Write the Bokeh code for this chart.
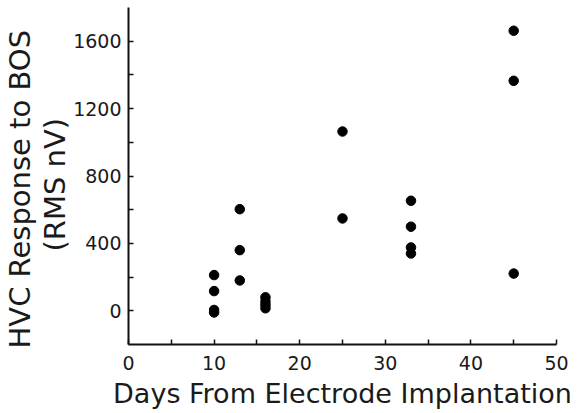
from bokeh.plotting import figure
from bokeh.models import FixedTicker, Range1d, Title
from bokeh.embed import file_html
from bokeh.resources import INLINE

# data
days = [10, 10, 10, 10, 13, 13, 13, 16, 16, 16, 16, 25, 25, 33, 33, 33, 33, 45, 45, 45]
response = [212, 117, 5, -10, 603, 360, 180, 80, 55, 35, 15, 1064, 548, 653, 499, 376, 340, 1662, 1365, 221]

x_major = [0, 10, 20, 30, 40, 50]
x_minor = [5, 15, 25, 35, 45]
y_major = [0, 400, 800, 1200, 1600]
y_minor = [200, 600, 1000, 1400]

FONT = "DejaVu Sans"
TXT = "#1a1a1a"

p = figure(width=578, height=413, output_backend="svg", toolbar_location=None,
           x_range=Range1d(0, 50), y_range=Range1d(-200, 1800),
           min_border_left=128, min_border_right=22, min_border_top=7, min_border_bottom=69)
p.outline_line_color = None
p.grid.visible = False
p.background_fill_color = "white"

p.scatter(days, response, size=9.5, fill_color="black", line_color="black")

for ax in (p.xaxis[0], p.yaxis[0]):
    ax.axis_line_color = "#111111"
    ax.axis_line_width = 2
    ax.major_tick_line_color = "#111111"
    ax.minor_tick_line_color = "#111111"
    ax.major_tick_line_width = 1.5
    ax.minor_tick_line_width = 1.5
    ax.major_tick_in = 5
    ax.major_tick_out = 0
    ax.minor_tick_in = 5
    ax.minor_tick_out = 0
    ax.major_label_text_font = FONT
    ax.major_label_text_font_size = "19px"
    ax.major_label_text_color = TXT

p.xaxis[0].ticker = FixedTicker(ticks=x_major, minor_ticks=x_minor)
p.yaxis[0].ticker = FixedTicker(ticks=y_major, minor_ticks=y_minor)
p.xaxis[0].major_label_standoff = 11
p.yaxis[0].major_label_standoff = 7

p.xaxis[0].axis_label = "Days From Electrode Implantation"
p.xaxis[0].axis_label_text_font = FONT
p.xaxis[0].axis_label_text_font_size = "27px"
p.xaxis[0].axis_label_text_font_style = "normal"
p.xaxis[0].axis_label_text_color = TXT
p.xaxis[0].axis_label_standoff = 5

t2 = Title(text="(RMS nV)", align="left", text_font=FONT, text_font_size="29px",
           text_font_style="normal", text_color=TXT, standoff=-2, offset=93)
t1 = Title(text="HVC Response to BOS", align="left", text_font=FONT, text_font_size="29px",
           text_font_style="normal", text_color=TXT, standoff=0, offset=-4)
p.add_layout(t2, "left")
p.add_layout(t1, "left")

open("out.html", "w").write(file_html(p, INLINE))
